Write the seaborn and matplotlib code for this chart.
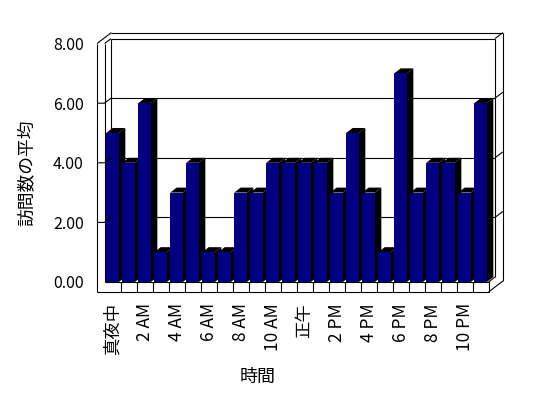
import matplotlib
matplotlib.use("Agg")
import matplotlib.pyplot as plt
from matplotlib.patches import Polygon
import numpy as np
import pandas as pd
import seaborn as sns

# ---- data ----
hours = ["真夜中", "1 AM", "2 AM", "3 AM", "4 AM", "5 AM", "6 AM", "7 AM",
         "8 AM", "9 AM", "10 AM", "11 AM", "正午", "1 PM", "2 PM", "3 PM",
         "4 PM", "5 PM", "6 PM", "7 PM", "8 PM", "9 PM", "10 PM", "11 PM"]
visits = [5, 4, 6, 1, 3, 4, 1, 1, 3, 3, 4, 4, 4, 4, 3, 5, 3, 1, 7, 3, 4, 4, 3, 6]
x_tick_labels = ["真夜中", "2 AM", "4 AM", "6 AM", "8 AM", "10 AM",
                 "正午", "2 PM", "4 PM", "6 PM", "8 PM", "10 PM"]
y_ticks = [0, 2, 4, 6, 8]
y_tick_labels = ["0.00", "2.00", "4.00", "6.00", "8.00"]
x_title = "時間"
y_title = "訪問数の平均"

df = pd.DataFrame({"hour": hours, "visits": visits})

sns.set_style("white")
plt.rcParams["font.family"] = ["Noto Sans CJK JP", "DejaVu Sans"]

# ---- geometry / style (3-D look) ----
W = 1.0 - 0.21          # bar width
DX, DY = 0.406, 0.168   # depth offset (data units)
BX, BY = 0.49, 0.20     # back wall thickness offset
TX, TY = 0.47, 0.336    # left wall / floor thickness
YMAX = 8
n = len(hours)
X0, X1 = -0.5, n - 0.5
XL = X0 - TX
xlim = (XL, X1 + DX + BX)
ylim = (-TY, YMAX + DY + BY)
PX_X, PX_Y = 16.0, 29.8  # pixels per data unit

FIG_W, FIG_H = 548, 398
fig = plt.figure(figsize=(FIG_W / 100, FIG_H / 100), dpi=100)
left_px, bottom_px = 97, 292
w_px = (xlim[1] - xlim[0]) * PX_X
h_px = (ylim[1] - ylim[0]) * PX_Y
ax = fig.add_axes([left_px / FIG_W, 1 - bottom_px / FIG_H, w_px / FIG_W, h_px / FIG_H])

sns.barplot(data=df, x="hour", y="visits", order=hours, color="#000080",
            saturation=1, width=W, linewidth=0, errorbar=None, ax=ax, zorder=3)

LC = "black"
LW = 0.8

# bar sides and tops
for p in list(ax.patches):
    x0 = p.get_x()
    w = p.get_width()
    h = p.get_height()
    xr = x0 + w
    side = Polygon([(xr, 0), (xr + DX, DY), (xr + DX, h + DY), (xr, h)],
                   closed=True, facecolor="black", edgecolor="none", zorder=2)
    top = Polygon([(x0, h), (xr, h), (xr + DX, h + DY), (x0 + DX, h + DY)],
                  closed=True, facecolor="black", edgecolor="none", zorder=2)
    ax.add_patch(side)
    ax.add_patch(top)


def line(xs, ys, z=1):
    ax.plot(xs, ys, color=LC, lw=LW, solid_capstyle="butt", clip_on=False, zorder=z)


# walls / floor frame
line([XL, XL], [YMAX, -TY], 4)
line([X0, X0], [YMAX, 0], 4)
line([XL, X1], [-TY, -TY], 4)
line([X0, X1], [0, 0], 4)
for b in np.arange(X0 + 1, X1 + 0.5, 1.0):
    line([b, b], [0, -TY], 4)
line([X1, X1 + DX + BX], [-TY, -TY + DY + BY], 4)
line([X1, X1 + DX], [0, DY], 4)
line([X1 + DX + BX] * 2, [-TY + DY + BY, YMAX + DY + BY], 4)
line([XL, XL + DX + BX], [YMAX, YMAX + DY + BY], 4)
line([XL + DX + BX, X1 + DX + BX], [YMAX + DY + BY] * 2, 4)
line([X0, X0 + DX], [YMAX, YMAX + DY], 4)
line([X0 + DX, X1 + DX], [YMAX + DY] * 2, 1)
line([X1 + DX] * 2, [DY, YMAX + DY], 1)
line([X1 + DX, X1 + DX + BX], [YMAX + DY, YMAX + DY + BY], 4)
line([X0 + DX] * 2, [DY, YMAX + DY], 1)
for v in y_ticks[1:-1]:
    line([X0 + DX, X1 + DX], [v + DY] * 2, 1)
    line([XL, X0, X0 + DX], [v, v, v + DY], 4)
    line([X1 + DX, X1 + DX + BX], [v + DY, v + DY + BY], 4)

ax.set_xlim(*xlim)
ax.set_ylim(*ylim)
for s in ax.spines.values():
    s.set_visible(False)

ax.set_yticks(y_ticks)
ax.set_yticklabels(y_tick_labels)
ax.set_xticks(list(range(0, n, 2)))
ax.set_xticklabels(x_tick_labels, rotation=90)
ax.tick_params(axis="y", length=0, pad=9.5, labelsize=11.5, colors="black")
ax.tick_params(axis="x", length=0, pad=8, labelsize=12.5, colors="black")

ax.set_xlabel(x_title, fontsize=13, color="black")
ax.set_ylabel(y_title, fontsize=12.8, color="black")
ax.xaxis.set_label_coords((258 - left_px) / w_px, (bottom_px - 368) / h_px)
ax.yaxis.set_label_coords((36 - left_px) / w_px, (bottom_px - 173) / h_px)
ax.grid(False)

fig.savefig("out.png", dpi=100, facecolor="white")
